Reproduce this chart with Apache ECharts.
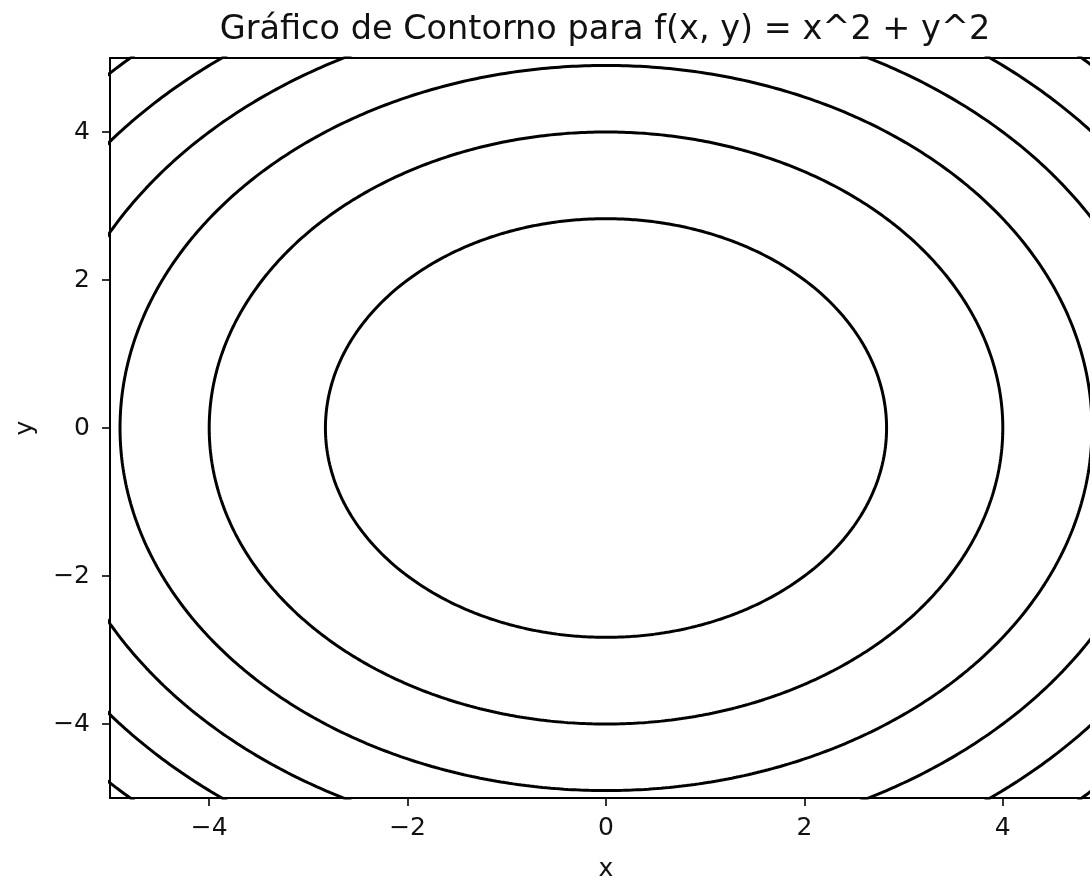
<!DOCTYPE html>
<html>
<head>
<meta charset="utf-8">
<script src="https://cdn.jsdelivr.net/npm/echarts@6/dist/echarts.min.js"></script>
<style>
  html, body { margin: 0; padding: 0; background: #fff; }
  #chart { width: 1090px; height: 880px; }
</style>
</head>
<body>
<div id="chart"></div>
<script>
// contour levels of f(x, y) = x^2 + y^2
const levels = [8, 16, 24, 32, 40, 48];
const xTicks = [-4, -2, 0, 2, 4];
const yTicks = [-4, -2, 0, 2, 4];
const xRange = [-5, 5];
const yRange = [-5, 5];

// points on the curve f(x, y) = level (a circle of radius sqrt(level))
function contourLine(level) {
  const r = Math.sqrt(level);
  const pts = [];
  for (let i = 0; i <= 720; i++) {
    const t = (i / 720) * 2 * Math.PI;
    pts.push([r * Math.cos(t), r * Math.sin(t)]);
  }
  return pts;
}

const minus = v => (v < 0 ? '\u2212' + Math.abs(v) : String(v));
const font = 'DejaVu Sans';
const tickFont = 25;

const chart = echarts.init(document.getElementById('chart'));
chart.setOption({
  animation: false,
  backgroundColor: '#fff',
  title: {
    text: 'Gráfico de Contorno para f(x, y) = x^2 + y^2',
    left: 600,
    top: 8,
    textAlign: 'center',
    textStyle: { fontFamily: font, fontSize: 33.5, fontWeight: 'normal', color: '#111' }
  },
  // the axes run past the right edge of the picture, as in the reference
  grid: { left: 110, top: 58, width: 992, height: 740, outerBoundsMode: 'none' },
  xAxis: [{
    type: 'value',
    min: xRange[0],
    max: xRange[1],
    name: 'x',
    nameLocation: 'middle',
    nameGap: 59,
    nameTextStyle: { fontFamily: font, fontSize: tickFont, color: '#111' },
    axisLine: { show: true, onZero: false, lineStyle: { color: '#000', width: 2 } },
    axisTick: { show: true, length: 8, customValues: xTicks, lineStyle: { color: '#000', width: 1.6 } },
    axisLabel: { customValues: xTicks, formatter: minus, margin: 18, fontFamily: font, fontSize: tickFont, color: '#111' },
    splitLine: { show: false }
  }, {
    type: 'value',
    position: 'top',
    min: xRange[0],
    max: xRange[1],
    axisLine: { show: true, onZero: false, lineStyle: { color: '#000', width: 2 } },
    axisTick: { show: false },
    axisLabel: { show: false },
    splitLine: { show: false }
  }],
  yAxis: [{
    type: 'value',
    min: yRange[0],
    max: yRange[1],
    name: 'y',
    nameLocation: 'middle',
    nameGap: 72,
    nameTextStyle: { fontFamily: font, fontSize: tickFont, color: '#111' },
    axisLine: { show: true, onZero: false, lineStyle: { color: '#000', width: 2 } },
    axisTick: { show: true, length: 8, customValues: yTicks, lineStyle: { color: '#000', width: 1.6 } },
    axisLabel: { customValues: yTicks, formatter: minus, margin: 20, fontFamily: font, fontSize: tickFont, color: '#111' },
    splitLine: { show: false }
  }, {
    type: 'value',
    position: 'right',
    min: yRange[0],
    max: yRange[1],
    axisLine: { show: true, onZero: false, lineStyle: { color: '#000', width: 2 } },
    axisTick: { show: false },
    axisLabel: { show: false },
    splitLine: { show: false }
  }],
  series: levels.map(level => ({
    type: 'line',
    name: 'f = ' + level,
    data: contourLine(level),
    showSymbol: false,
    symbol: 'none',
    clip: true,
    silent: true,
    lineStyle: { color: '#000', width: 3 }
  }))
});
</script>
</body>
</html>
